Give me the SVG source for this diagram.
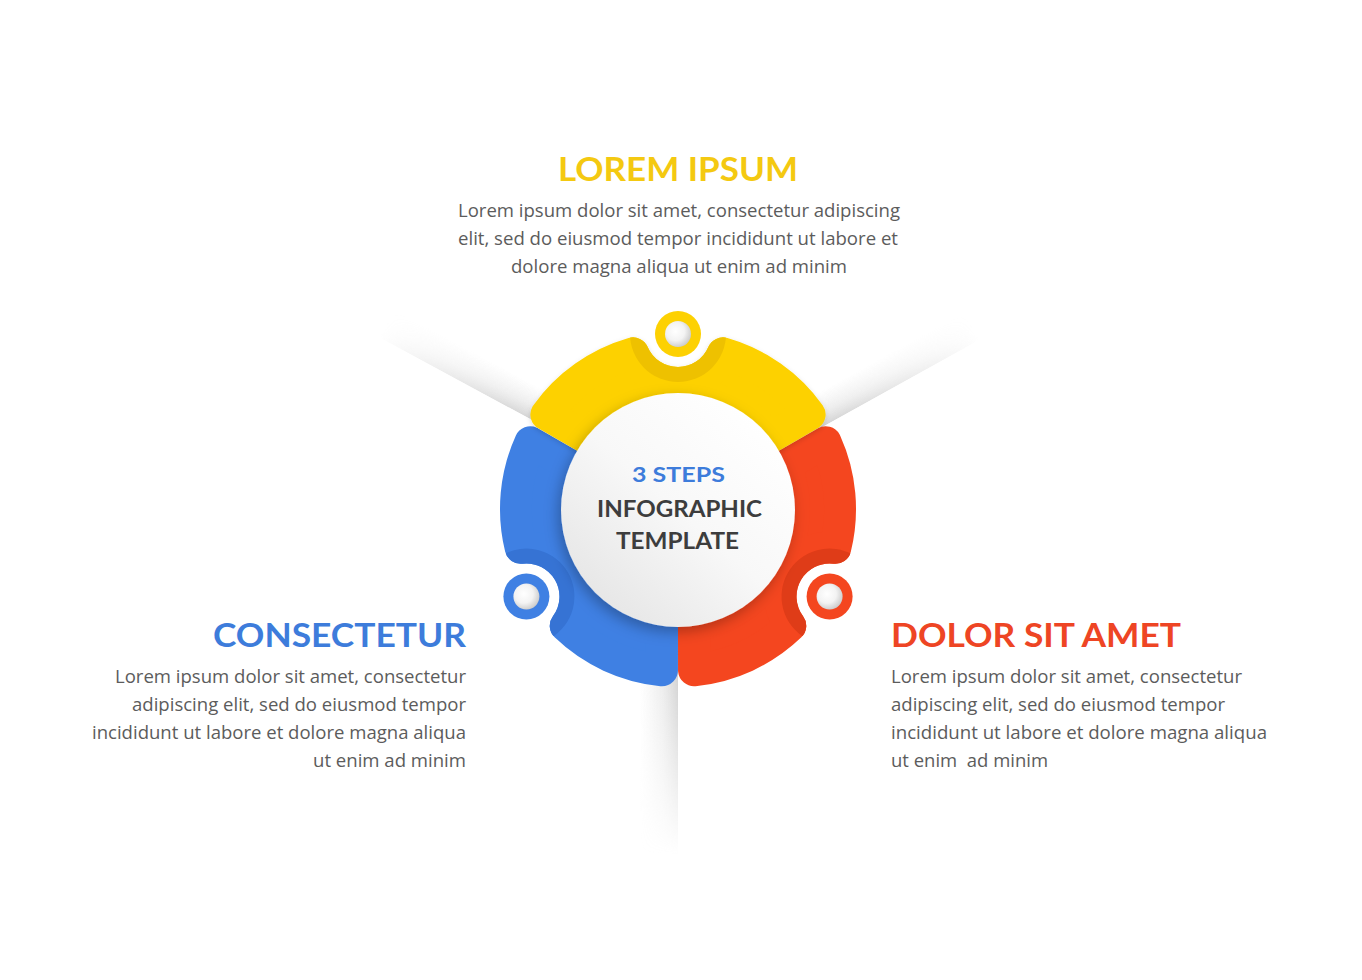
<svg xmlns="http://www.w3.org/2000/svg" width="1362" height="980" viewBox="0 0 1362 980">
<style>
.title{font-family:Lato,"Liberation Sans",sans-serif;font-weight:700;}
.body{font-family:"Open Sans","Liberation Sans",sans-serif;font-size:18.5px;fill:#5c5c5c;}
.ctr{font-family:Lato,"Liberation Sans",sans-serif;font-weight:700;fill:#3d3d3d;}
</style>
<defs>
<path id="seg" d="M -131.6 -94.5 A 162 162 0 0 1 -45.02 -155.62 A 49 49 0 0 0 45.02 -155.62 A 162 162 0 0 1 131.6 -94.5 L 91.5 -71.3 A 116 116 0 0 0 -91.5 -71.3 Z"/>
<mask id="segMask"><use href="#seg" fill="#fff" stroke="#fff" stroke-width="32" stroke-linejoin="round"/></mask>
<linearGradient id="fadeL" x1="0" y1="0" x2="1" y2="0"><stop offset="0" stop-color="#fff"/><stop offset="0.5" stop-color="#fff"/><stop offset="1" stop-color="#000"/></linearGradient>
<mask id="beamMask" maskContentUnits="objectBoundingBox"><rect width="1" height="1" fill="url(#fadeL)"/></mask>
<linearGradient id="gPos" x1="0" y1="0" x2="0" y2="1"><stop offset="0" stop-color="#b8b8b8" stop-opacity="0.6"/><stop offset="0.4" stop-color="#c8c8c8" stop-opacity="0.33"/><stop offset="1" stop-color="#d0d0d0" stop-opacity="0"/></linearGradient>
<linearGradient id="gNeg" x1="0" y1="1" x2="0" y2="0"><stop offset="0" stop-color="#b8b8b8" stop-opacity="0.6"/><stop offset="0.4" stop-color="#c8c8c8" stop-opacity="0.33"/><stop offset="1" stop-color="#d0d0d0" stop-opacity="0"/></linearGradient>
<radialGradient id="hole" cx="0.4" cy="0.4" r="0.65"><stop offset="0" stop-color="#ffffff"/><stop offset="0.55" stop-color="#f3f3f3"/><stop offset="1" stop-color="#c9c9c9"/></radialGradient>
<linearGradient id="disc" x1="0.85" y1="0.1" x2="0.15" y2="0.9"><stop offset="0" stop-color="#ffffff"/><stop offset="0.5" stop-color="#f8f8f8"/><stop offset="1" stop-color="#e6e6e6"/></linearGradient>
<filter id="shadow" x="-30%" y="-30%" width="160%" height="160%"><feDropShadow dx="-3" dy="5" stdDeviation="7" flood-color="#000" flood-opacity="0.28"/></filter>
<filter id="segShadow" x="-20%" y="-20%" width="140%" height="140%"><feDropShadow dx="0" dy="2" stdDeviation="2.5" flood-color="#000" flood-opacity="0.15"/></filter>
</defs>
<rect width="1362" height="980" fill="#ffffff"/>

<g id="connectors">
<g transform="translate(678,499) rotate(-151.6)"><rect x="0" y="0" width="340" height="32" fill="url(#gPos)" mask="url(#beamMask)"/></g>
<g transform="translate(678,507) rotate(-29)"><rect x="0" y="-32" width="345" height="32" fill="url(#gNeg)" mask="url(#beamMask)"/></g>
<g transform="translate(678,509) rotate(90)"><rect x="0" y="0" width="345" height="38" fill="url(#gPos)" mask="url(#beamMask)"/></g>
</g>

<g id="node-red">
<g transform="translate(678,509) rotate(120)">
<use href="#seg" fill="#f4461f" stroke="#f4461f" stroke-width="32" stroke-linejoin="round"/>
<circle cx="0" cy="-175" r="48" fill="#df3c18" mask="url(#segMask)"/>
</g>
<circle cx="829.6" cy="596.5" r="23" fill="#f4461f"/>
<circle cx="829.6" cy="596.5" r="13" fill="url(#hole)"/>
</g>

<g id="node-blue">
<g transform="translate(678,509) rotate(240)">
<use href="#seg" fill="#3f80e3" stroke="#3f80e3" stroke-width="32" stroke-linejoin="round"/>
<circle cx="0" cy="-175" r="48" fill="#3673d4" mask="url(#segMask)"/>
</g>
<circle cx="526.4" cy="596.5" r="23" fill="#3f80e3"/>
<circle cx="526.4" cy="596.5" r="13" fill="url(#hole)"/>
</g>

<g id="node-yellow">
<g transform="translate(678,509)" filter="url(#segShadow)">
<use href="#seg" fill="#fdd102" stroke="#fdd102" stroke-width="32" stroke-linejoin="round"/>
<circle cx="0" cy="-175" r="48" fill="#eec100" mask="url(#segMask)"/>
</g>
<circle cx="678" cy="334" r="23" fill="#fdd102"/>
<circle cx="678" cy="334" r="13" fill="url(#hole)"/>
</g>

<g id="center">
<circle cx="678" cy="510" r="117" fill="url(#disc)" filter="url(#shadow)"/>
<text class="ctr" x="632" y="482" font-size="21" style="fill:#3d7cdb" textLength="93" lengthAdjust="spacingAndGlyphs">3 STEPS</text>
<text class="ctr" x="597" y="517" font-size="22" textLength="165" lengthAdjust="spacingAndGlyphs">INFOGRAPHIC</text>
<text class="ctr" x="616" y="549" font-size="22" textLength="123" lengthAdjust="spacingAndGlyphs">TEMPLATE</text>
</g>

<g id="text-top">
<text class="title" x="558" y="181" font-size="32" fill="#f4c911" textLength="240" lengthAdjust="spacingAndGlyphs">LOREM IPSUM</text>
<text class="body" x="458" y="217" textLength="442" lengthAdjust="spacingAndGlyphs">Lorem ipsum dolor sit amet, consectetur adipiscing</text>
<text class="body" x="458" y="245" textLength="440" lengthAdjust="spacingAndGlyphs">elit, sed do eiusmod tempor incididunt ut labore et</text>
<text class="body" x="511" y="273" textLength="336" lengthAdjust="spacingAndGlyphs">dolore magna aliqua ut enim ad minim</text>
</g>

<g id="text-left">
<text class="title" x="213" y="647" font-size="32" fill="#3d7cdb" textLength="253" lengthAdjust="spacingAndGlyphs">CONSECTETUR</text>
<text class="body" x="115" y="683" textLength="351" lengthAdjust="spacingAndGlyphs">Lorem ipsum dolor sit amet, consectetur</text>
<text class="body" x="132" y="711" textLength="334" lengthAdjust="spacingAndGlyphs">adipiscing elit, sed do eiusmod tempor</text>
<text class="body" x="92" y="739" textLength="374" lengthAdjust="spacingAndGlyphs">incididunt ut labore et dolore magna aliqua</text>
<text class="body" x="313" y="767" textLength="153" lengthAdjust="spacingAndGlyphs">ut enim ad minim</text>
</g>

<g id="text-right">
<text class="title" x="891" y="647" font-size="32" fill="#ee4524" textLength="290" lengthAdjust="spacingAndGlyphs">DOLOR SIT AMET</text>
<text class="body" x="891" y="683" textLength="351" lengthAdjust="spacingAndGlyphs">Lorem ipsum dolor sit amet, consectetur</text>
<text class="body" x="891" y="711" textLength="334" lengthAdjust="spacingAndGlyphs">adipiscing elit, sed do eiusmod tempor</text>
<text class="body" x="891" y="739" textLength="376" lengthAdjust="spacingAndGlyphs">incididunt ut labore et dolore magna aliqua</text>
<text class="body" x="891" y="767" textLength="157" lengthAdjust="spacingAndGlyphs" xml:space="preserve" style="white-space:pre">ut enim  ad minim</text>
</g>
</svg>
